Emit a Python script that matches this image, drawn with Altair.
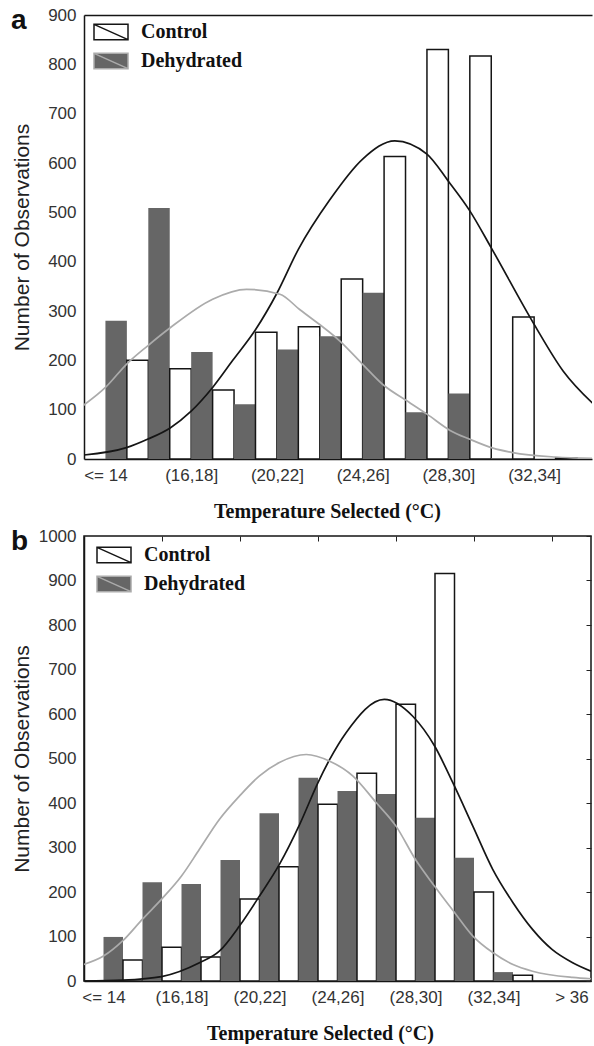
import altair as alt
import pandas as pd

# ---------------- data ----------------
categories = ["<= 14", "(14,16]", "(16,18]", "(18,20]", "(20,22]", "(22,24]",
              "(24,26]", "(26,28]", "(28,30]", "(30,32]", "(32,34]", "(34,36]", "> 36"]
series_names = ["Control", "Dehydrated"]

# panel a
a_control = [200, 183, 140, 257, 268, 365, 613, 830, 817, 288, 2, 0, 0]
a_dehydrated = [280, 509, 217, 111, 222, 249, 337, 95, 133, 2, 0, 0, 0]
# panel b
b_control = [47, 76, 54, 184, 257, 397, 467, 622, 916, 200, 13, 0, 0]
b_dehydrated = [99, 222, 218, 272, 377, 457, 427, 420, 367, 277, 20, 0, 0]

# fitted curves, read point by point (x in category units, y in counts)
a_ctrl_curve_x = [-0.51, 0.49, 0.98, 1.51, 2.0, 2.5, 2.97, 3.5, 4.0, 4.5, 5.23, 6.0,
                  6.75, 7.5, 8.0, 8.5, 9.0, 10.0, 10.68, 11.4]
a_ctrl_curve_y = [8, 23, 40, 63, 97, 145, 200, 262, 336, 425, 525, 608,
                  645, 618, 563, 503, 428, 273, 178, 110]
a_deh_curve_x = [-0.51, 0.0, 0.49, 0.98, 1.51, 2.5, 3.29, 4.07, 4.53, 5.47, 6.0, 6.47,
                 7.03, 7.5, 8.04, 8.5, 9.04, 9.5, 10.5, 11.4]
a_deh_curve_y = [109, 145, 192, 229, 266, 324, 344, 334, 303, 239, 192, 151,
                 118, 91, 58, 40, 22, 13, 4, 1]

b_ctrl_curve_x = [-0.51, 0.49, 1.49, 2.46, 2.97, 3.49, 4.0, 4.51, 5.03, 5.5, 5.8, 6.22,
                  7.2, 7.93, 8.49, 8.96, 9.47, 9.98, 10.5, 11.0, 11.5, 12.03, 12.5]
b_ctrl_curve_y = [0, 2, 10, 41, 67, 124, 191, 262, 352, 446, 498, 558,
                  633, 595, 528, 445, 348, 251, 176, 116, 71, 41, 22]
b_deh_curve_x = [-0.51, 0.0, 0.49, 1.0, 1.49, 2.0, 2.46, 2.97, 3.49, 4.0, 4.51, 5.2,
                 5.8, 6.39, 6.99, 7.5, 8.0, 8.49, 9.0, 9.47, 9.98, 10.5, 11.0, 12.03, 12.5]
b_deh_curve_y = [37, 56, 90, 139, 184, 236, 296, 363, 416, 461, 491, 509,
                 494, 461, 401, 348, 273, 213, 154, 101, 64, 37, 22, 8, 5]

SANS = "Liberation Sans"
SERIF = "Liberation Serif"
LEGEND_PATH = "M-1,-0.45L1,-0.45L1,0.45L-1,0.45Z M-1,-0.45L1,0.45"
labels_js = "[" + ",".join("'" + c + "'" for c in categories) + "]"


def bar_table(ctrl, deh):
    rows = []
    for i, cat in enumerate(categories):
        for name, vals, shift in (("Dehydrated", deh, 0.0), ("Control", ctrl, 0.5)):
            if vals[i] > 0:
                rows.append({"cat": cat, "series": name, "count": vals[i],
                             "x0": i + shift, "x1": i + shift + 0.5})
    return pd.DataFrame(rows)


def curve_table(cx, cy, dx, dy):
    rows = [{"series": "Control", "pos": x, "count": y} for x, y in zip(cx, cy)]
    rows += [{"series": "Dehydrated", "pos": x, "count": y} for x, y in zip(dx, dy)]
    return pd.DataFrame(rows)


def make_panel(letter, ctrl, deh, cx, cy, dx, dy, x_max, y_max, width, height,
               boxed, leg_x, leg_y, title_x):
    xscale = alt.Scale(domain=[-0.5, x_max], nice=False, zero=False)
    yscale = alt.Scale(domain=[0, y_max], nice=False, zero=True)
    fill_scale = alt.Scale(domain=series_names, range=["#ffffff", "#666666"])
    stroke_scale = alt.Scale(domain=series_names, range=["#151515", "#ababab"])
    legend = alt.Legend(title=None, orient="none", legendX=leg_x, legendY=leg_y,
                        padding=0, symbolType=LEGEND_PATH, symbolSize=1156,
                        symbolStrokeWidth=1.5, labelFont=SERIF, labelFontWeight="bold",
                        labelFontSize=20, labelColor="#111111", labelOffset=12,
                        rowPadding=0, symbolOpacity=1)
    label_vals = [v for v in range(0, 13, 2) if v <= x_max]
    y_vals = list(range(0, y_max + 1, 100))

    bars = alt.Chart(bar_table(ctrl, deh)).mark_bar(clip=True).encode(
        x=alt.X("x0:Q", scale=xscale,
                axis=alt.Axis(orient="bottom", values=label_vals,
                              labelExpr=labels_js + "[round(datum.value)]",
                              title="Temperature Selected (\u00b0C)",
                              titleX=title_x, titleY=42, titleBaseline="top",
                              titleAnchor="start", titleAlign="center",
                              labelPadding=8, labelFlush=False)),
        x2="x1:Q",
        y=alt.Y("count:Q", scale=yscale,
                axis=alt.Axis(orient="left", values=y_vals, format="d",
                              title="Number of Observations",
                              titleX=-56, titleBaseline="alphabetic", labelPadding=8)),
        y2=alt.datum(0),
        fill=alt.Fill("series:N", scale=fill_scale, legend=legend),
        stroke=alt.Stroke("series:N", scale=stroke_scale, legend=legend),
        strokeWidth=alt.condition(alt.datum.series == "Control", alt.value(1.5), alt.value(0)),
    )

    if boxed:
        top_axis = alt.Axis(orient="top", values=[1.5, 3.5, 5.5, 7.5, 9.5, 11.5],
                            labels=False, domain=False, ticks=True, tickSize=5,
                            offset=-5, title=None)
        right_axis = alt.Axis(orient="right", values=y_vals, labels=False,
                              domain=False, ticks=True, tickSize=5, offset=-5,
                              title=None)
    else:
        top_axis = alt.Axis(orient="top", labels=False, domain=True, ticks=False,
                            title=None)
        right_axis = alt.Axis(orient="right", labels=False, domain=False, ticks=False,
                              title=None)

    lines = alt.Chart(curve_table(cx, cy, dx, dy)).mark_line(
        clip=True, strokeWidth=1.7, interpolate="monotone").encode(
        x=alt.X("pos:Q", scale=xscale, axis=top_axis),
        y=alt.Y("count:Q", scale=yscale, axis=right_axis),
        stroke=alt.Stroke("series:N", scale=stroke_scale, legend=legend),
        detail="series:N",
    )

    view = (alt.ViewBackground(stroke="#151515", strokeWidth=1.5) if boxed
            else alt.ViewBackground(stroke="transparent"))
    return alt.layer(bars, lines).properties(
        width=width, height=height, view=view,
        title=alt.TitleParams(text=letter, anchor="start", frame="bounds", orient="top",
                              offset=0, dy=29, font=SANS,
                              fontSize=28, fontWeight="bold", color="#111111"))


panel_a = make_panel("a", a_control, a_dehydrated, a_ctrl_curve_x, a_ctrl_curve_y,
                     a_deh_curve_x, a_deh_curve_y, 11.35, 900, 508, 444,
                     False, 9, -1, 243)
panel_b = make_panel("b", b_control, b_dehydrated, b_ctrl_curve_x, b_ctrl_curve_y,
                     b_deh_curve_x, b_deh_curve_y, 12.5, 1000, 507, 445,
                     True, 12, 1, 236)

chart = alt.vconcat(panel_a, panel_b, spacing=4).resolve_scale(
    x="independent", y="independent", fill="independent", stroke="independent"
).resolve_legend(fill="independent", stroke="independent").properties(
    padding={"left": 10, "top": 5, "right": 0, "bottom": 0}
).configure(background="white").configure_view(strokeWidth=1.5).configure_axis(
    grid=False, ticks=False, tickSize=0, domainColor="#151515", domainWidth=1.5,
    tickColor="#222222", tickWidth=1,
    labelFont=SANS, labelFontSize=17, labelColor="#333333",
    titleFont=SANS, titleFontSize=21, titleFontWeight="normal", titleColor="#222222"
).configure_axisX(
    titleFont=SERIF, titleFontSize=20, titleFontWeight="bold", titleColor="#111111"
)

chart.save("out.html", embed_options={"renderer": "svg", "actions": False})
